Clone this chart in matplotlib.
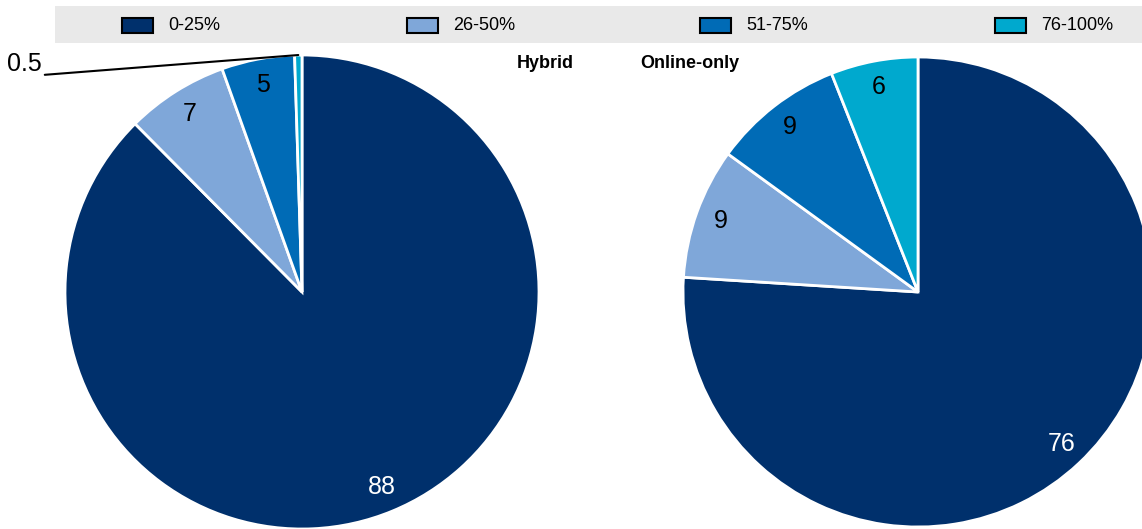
import matplotlib.pyplot as plt
from matplotlib.patches import Rectangle
import numpy as np

plt.rcParams['font.family'] = ['Liberation Sans Narrow', 'Liberation Sans', 'DejaVu Sans']

# Share of income, by band
bands = ['0-25%', '26-50%', '51-75%', '76-100%']
colors = ['#00306C', '#7FA7D9', '#006BB6', '#00A9CE']
hybrid = [88, 7, 5, 0.5]
online_only = [76, 9, 9, 6]

W, H = 1142, 529
fig = plt.figure(figsize=(W / 100, H / 100), dpi=100)


def pie_axes(cx, cy, r):
    # axes box in pixel terms, cy measured from top
    return fig.add_axes([(cx - r) / W, (H - cy - r) / H, 2 * r / W, 2 * r / H])


def draw_pie(ax, values, hide_small=False):
    labels = [('' if (hide_small and v < 1) else f'{v:g}') for v in values]
    wedges, texts = ax.pie(values, colors=colors, startangle=90, counterclock=False,
                           labels=labels, labeldistance=0.89,
                           wedgeprops=dict(edgecolor='white', linewidth=2),
                           textprops=dict(fontsize=18, color='black'))
    texts[0].set_color('white')
    for t in texts:
        t.set_ha('center')
        t.set_va('center')
    ax.set_xlim(-1, 1)
    ax.set_ylim(-1, 1)
    ax.set_aspect('equal')
    ax.axis('off')
    return wedges


ax1 = pie_axes(302, 292, 237)
w1 = draw_pie(ax1, hybrid, hide_small=True)

# leader line for the tiny slice
small = w1[3]
mid = np.deg2rad((small.theta1 + small.theta2) / 2)
ax1.annotate(f'{hybrid[3]:g}', xy=(np.cos(mid), np.sin(mid)), xytext=(-1.1, 0.962),
             ha='right', va='center', fontsize=18,
             arrowprops=dict(arrowstyle='-', color='black', lw=1.5, shrinkA=0, shrinkB=0,
                             relpos=(1.1, 0.05)),
             annotation_clip=False)

ax2 = pie_axes(918, 292, 235)
draw_pie(ax2, online_only)

fig.text(545 / W, 1 - 64 / H, 'Hybrid', ha='center', va='center', fontsize=13, fontweight='bold')
fig.text(690 / W, 1 - 64 / H, 'Online-only', ha='center', va='center', fontsize=13, fontweight='bold')

# legend band
fig.patches.append(Rectangle((55 / W, 1 - 43 / H), (W - 55) / W, 37 / H,
                             transform=fig.transFigure, facecolor='#E9E9E9',
                             edgecolor='none', zorder=0))
key_x = [122, 407, 700, 995]
for x, c, b in zip(key_x, colors, bands):
    fig.patches.append(Rectangle((x / W, 1 - 33 / H), 31 / W, 15 / H,
                                 transform=fig.transFigure, facecolor=c,
                                 edgecolor='black', linewidth=1.5, zorder=1))
    fig.text((x + 46) / W, 1 - 26 / H, b, ha='left', va='center', fontsize=13)

fig.savefig('out.png', dpi=100)
